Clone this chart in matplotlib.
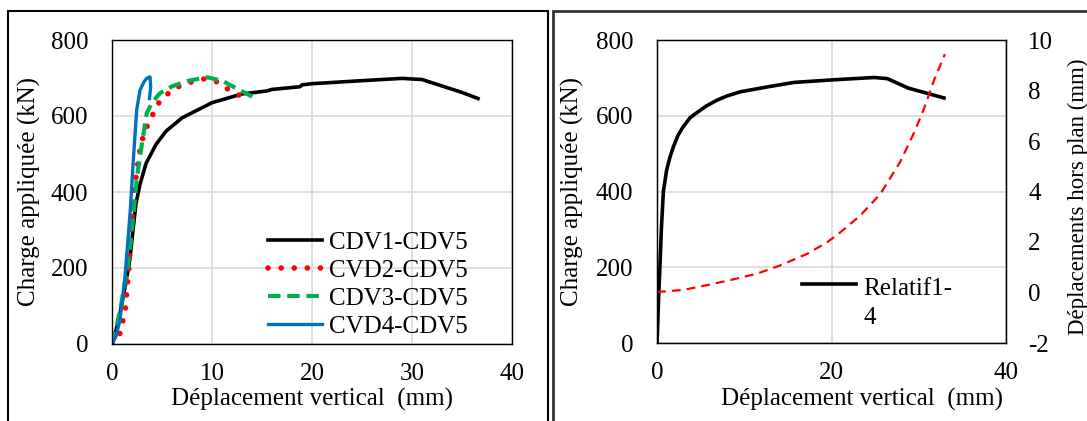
import matplotlib
matplotlib.use('Agg')
import matplotlib.pyplot as plt
from matplotlib.patches import Rectangle
from matplotlib.legend_handler import HandlerLine2D

plt.rcParams['font.family'] = ['Liberation Serif', 'DejaVu Serif']
plt.rcParams['font.size'] = 18
plt.rcParams['axes.unicode_minus'] = False

# ---- left chart data (mm, kN)
cdv1_x = [0, 0.3, 0.8, 1.3, 1.8, 2.1, 2.4, 2.8, 3.4, 4.4, 5.4, 7, 8.5, 10, 13, 15.5, 16, 18.8, 19, 20, 25, 29, 31, 33, 35, 36.6]
cdv1_y = [0, 25, 80, 150, 225, 300, 370, 420, 475, 525, 560, 595, 615, 635, 658, 666, 670, 677, 682, 685, 693, 699, 696, 679, 662, 646]
cvd2_x = [0, 0.1, 0.8, 1.33, 1.7, 1.85, 2.06, 2.2, 2.4, 2.7, 3.0, 3.4, 3.95, 4.4, 5.1, 7.0, 8.3, 9.3, 10.5, 11.5, 12.7]
cvd2_y = [0, 2, 28, 89, 203, 273, 343, 404, 439, 498, 535, 567, 596, 624, 650, 683, 692, 698, 690, 672, 655]
cdv3_x = [0, 0.33, 1.0, 1.67, 2.1, 2.5, 3.0, 3.47, 4.0, 4.8, 6, 7.5, 9.5, 11, 12.5, 14.1]
cdv3_y = [0, 29, 116, 221, 330, 440, 528, 607, 635, 660, 678, 692, 702, 693, 672, 650]
cvd4_x = [0, 0.4, 0.8, 1.3, 1.83, 2.13, 2.47, 2.8, 3.2, 3.47, 3.8, 3.87, 3.75]
cvd4_y = [0, 20, 63, 177, 352, 484, 616, 668, 690, 699, 703, 677, 646]

# ---- right chart data
rel_x = [0, 0.1, 0.2, 0.35, 0.5, 0.73, 1.1, 1.5, 1.88, 2.4, 3.0, 3.8, 4.56, 5.6, 6.86, 8, 9.5, 12.6,
         15.7, 20.3, 24.9, 26.4, 28.8, 32.9]
rel_y = [0, 60, 130, 210, 300, 400, 456, 492, 518, 548, 571, 595, 608, 625, 641, 652, 663, 676,
         688, 695, 701, 698, 673, 647]
hp_x = [0, 3, 5.7, 8.5, 11.5, 14.1, 17.2, 19.5, 21, 23.3, 25.6, 27.9, 29.5, 30.6, 31.8, 33]
hp_y = [0.02, 0.1, 0.29, 0.5, 0.75, 1.07, 1.53, 1.99, 2.38, 3.05, 3.9, 5.19, 6.36, 7.28, 8.45, 9.44]


class FirstLineHandler(HandlerLine2D):
    # put the legend line level with the first line of a two-line label
    def create_artists(self, legend, orig_handle, xdescent, ydescent, width, height, fontsize, trans):
        arts = super().create_artists(legend, orig_handle, xdescent, ydescent, width, height, fontsize, trans)
        for a in arts:
            a.set_ydata([y + 0.78 * fontsize for y in a.get_ydata()])
        return arts


fig = plt.figure(figsize=(10.87, 4.21), dpi=100)

fig.patches.append(Rectangle((8 / 1087, -0.05), 540 / 1087, 1 - 11 / 421 + 0.05, transform=fig.transFigure,
                             fill=False, edgecolor='black', lw=1.5, clip_on=False))
fig.patches.append(Rectangle((553 / 1087, -0.05), 0.6, 1 - 11 / 421 + 0.05, transform=fig.transFigure,
                             fill=False, edgecolor='#333333', lw=2, clip_on=False))


def style_axes(ax):
    ax.grid(True, color='#d9d9d9', lw=1.2)
    ax.set_axisbelow(True)
    for s in ax.spines.values():
        s.set_color('black')
        s.set_linewidth(1.0)
    ax.tick_params(length=0, labelsize=18, colors='black')
    ax.tick_params(axis='y', pad=17)
    ax.tick_params(axis='x', pad=14)


# left
ax1 = fig.add_axes([112 / 1087, 77 / 421, 400 / 1087, 304 / 421])
ax1.plot(cdv1_x, cdv1_y, color='black', lw=2.6, label='CDV1-CDV5')
ax1.plot(cvd2_x, cvd2_y, color='#ff0000', lw=4, linestyle=(0, (0.01, 2.35)), dash_capstyle='round',
         label='CVD2-CDV5')
ax1.plot(cdv3_x, cdv3_y, color='#00b050', lw=3, linestyle=(0, (3, 1.6)), label='CDV3-CDV5')
ax1.plot(cvd4_x, cvd4_y, color='#0070c0', lw=2.4, label='CVD4-CDV5')
ax1.set_xlim(0, 40)
ax1.set_ylim(0, 800)
ax1.set_xticks([0, 10, 20, 30, 40])
ax1.set_yticks([0, 200, 400, 600, 800])
style_axes(ax1)
ax1.set_xlabel('Déplacement vertical  (mm)', fontsize=18)
ax1.set_ylabel('Charge appliquée (kN)', fontsize=18)
ax1.xaxis.set_label_coords(0.5, -0.145)
ax1.yaxis.set_label_coords(-0.178, 0.5)
ax1.legend(loc='lower left', bbox_to_anchor=(0.39, 0.02), frameon=False, fontsize=18,
           handlelength=2.15, handletextpad=0.3, labelspacing=0.22, borderpad=0, borderaxespad=0)

# right
ax2 = fig.add_axes([657 / 1087, 78 / 421, 349 / 1087, 303 / 421])
ax2.plot(rel_x, rel_y, color='black', lw=2.6, label='Relatif1-\n4')
ax2.set_xlim(0, 40)
ax2.set_ylim(0, 800)
ax2.set_xticks([0, 20, 40])
ax2.set_yticks([0, 200, 400, 600, 800])
style_axes(ax2)
ax2.set_xlabel('Déplacement vertical  (mm)', fontsize=18)
ax2.set_ylabel('Charge appliquée (kN)', fontsize=18)
ax2.xaxis.set_label_coords(0.587, -0.149)
ax2.yaxis.set_label_coords(-0.209, 0.5)

ax3 = ax2.twinx()
ax3.plot(hp_x, hp_y, color='#ff0000', lw=1.6, linestyle=(0, (4, 2.7)))
ax3.set_ylim(-2, 10)
ax3.set_yticks([-2, 0, 2, 4, 6, 8, 10])
ax3.tick_params(length=0, labelsize=18, colors='black', pad=16)
ax3.set_ylabel('Déplacements hors plan (mm)', fontsize=16.5)
ax3.yaxis.set_label_coords(1.178, 0.482)

leg = ax2.legend(loc='lower left', bbox_to_anchor=(0.415, 0.045), frameon=False, fontsize=18,
                 handlelength=2.15, handletextpad=0.3, borderpad=0, borderaxespad=0,
                 handler_map={matplotlib.lines.Line2D: FirstLineHandler()})
leg.get_texts()[0].set_linespacing(1.45)

fig.savefig('out.png', dpi=100)
